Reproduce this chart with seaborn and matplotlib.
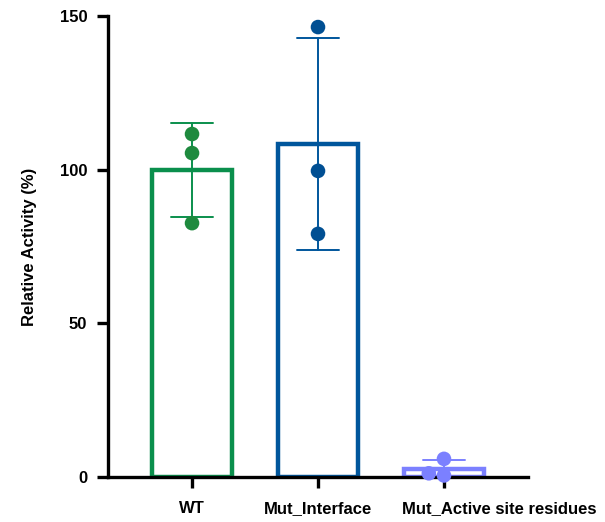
import matplotlib
matplotlib.use("Agg")
import matplotlib.pyplot as plt
import matplotlib.transforms as mtransforms
import seaborn as sns
import pandas as pd

categories = ["WT", "Mut_Interface", "Mut_Active site residues"]
wt_values = [111.6, 105.4, 82.6]
interface_values = [146.4, 99.6, 79.1]
active_values = [5.9, 0.5, 1.2]
bar_colors = ["#0a8f4c", "#00569c", "#7b80ff"]
point_colors = ["#1e8a3e", "#004f93", "#7b80ff"]
yticks = [0, 50, 100, 150]

df = pd.DataFrame({
    "group": [categories[0]] * 3 + [categories[1]] * 3 + [categories[2]] * 3,
    "value": wt_values + interface_values + active_values,
})

sns.set_style("ticks")
plt.rcParams["font.family"] = ["Liberation Sans", "DejaVu Sans"]
plt.rcParams["font.weight"] = "bold"
plt.rcParams["text.color"] = "black"
plt.rcParams["axes.labelcolor"] = "black"
plt.rcParams["xtick.color"] = "black"
plt.rcParams["ytick.color"] = "black"

fig = plt.figure(figsize=(6.05, 5.22), dpi=100)
ax = fig.add_axes([108 / 605, 1 - 477 / 522, 420 / 605, 461 / 522])

sns.barplot(data=df, x="group", y="value", hue="group", palette=bar_colors,
            order=categories, hue_order=categories, fill=False, width=0.63,
            linewidth=3.2, errorbar="sd", capsize=0.33,
            err_kws={"linewidth": 1.4}, legend=False, ax=ax, zorder=2)
n_before = len(ax.collections)
sns.swarmplot(data=df, x="group", y="value", hue="group", palette=point_colors,
              order=categories, hue_order=categories, size=10.5, legend=False,
              ax=ax, zorder=3)
for coll in ax.collections[n_before:]:
    coll.set_clip_on(False)

ax.set_ylim(0, 150)
ax.set_xlim(-0.667, 2.667)
ax.set_yticks(yticks)
ax.set_yticklabels([str(t) for t in yticks], fontsize=12, fontweight="bold",
                   color="black")
ax.set_xticks(range(len(categories)))
ax.set_xticklabels(categories, fontsize=12, fontweight="bold", color="black")
ax.set_xlabel("")
ax.set_ylabel("Relative Activity (%)", fontsize=12, fontweight="bold",
              labelpad=16, color="black")

for s in ["top", "right"]:
    ax.spines[s].set_visible(False)
for s in ["left", "bottom"]:
    ax.spines[s].set_linewidth(2.4)
    ax.spines[s].set_color("black")
ax.tick_params(axis="both", width=2.4, length=8, color="black",
               labelcolor="black", pad=7)
ax.tick_params(axis="x", pad=9)
ax.patch.set_visible(False)

# last label is shifted right in the reference so it doesn't collide
lbl = ax.get_xticklabels()[-1]
lbl.set_horizontalalignment("left")
lbl.set_transform(lbl.get_transform() +
                  mtransforms.ScaledTranslation(-0.42, 0, fig.dpi_scale_trans))

fig.savefig("out.png", dpi=100)
